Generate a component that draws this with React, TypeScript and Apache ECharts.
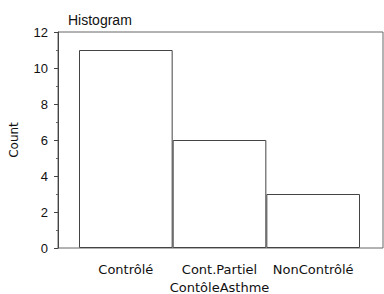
import React, { useEffect, useRef } from "react";
import * as echarts from "echarts";

const categories = ["Contrôlé", "Cont.Partiel", "NonContrôlé"];
const counts = [11, 6, 3];
const yTicks = { min: 0, max: 12, interval: 2 };
const titleText = "Histogram";
const yName = "Count";
const xName = "ContôleAsthme";

export default function App() {
  const ref = useRef<HTMLDivElement>(null);
  useEffect(() => {
    const chart = echarts.init(ref.current!, null, { renderer: "svg" });
    const font = "'Liberation Sans', Arial, sans-serif";
    const font2 = "'DejaVu Sans', sans-serif";
    chart.setOption({
      animation: false,
      textStyle: { fontFamily: font },
      title: {
        text: titleText,
        left: 63,
        top: 8,
        textStyle: { fontSize: 14, fontWeight: "normal", color: "#111", fontFamily: font },
      },
      grid: [
        { left: 58, right: 1, top: 32, bottom: 46, show: true, borderColor: "#666", borderWidth: 1, backgroundColor: "transparent", outerBoundsMode: "none", containLabel: false },
        { left: 79, right: 24, top: 32, bottom: 46, outerBoundsMode: "none", containLabel: false },
      ],
      xAxis: [
        { gridIndex: 0, type: "value", min: 0, max: 1, show: false },
        {
          gridIndex: 1,
          type: "category",
          data: categories,
          boundaryGap: true,
          axisLine: { show: false },
          axisTick: { show: false },
          axisLabel: { color: "#111", fontSize: 13, margin: 15, interval: 0, hideOverlap: false, fontFamily: font2 },
          name: xName,
          nameLocation: "middle",
          nameGap: 32,
          nameTextStyle: { color: "#111", fontSize: 13, fontFamily: font2 },
        },
      ],
      yAxis: [
        {
          gridIndex: 0,
          type: "value",
          min: yTicks.min,
          max: yTicks.max,
          interval: yTicks.interval,
          axisLine: { show: true, lineStyle: { color: "#444" } },
          axisTick: { show: true, length: 4, lineStyle: { color: "#444" } },
          minorTick: { show: true, splitNumber: 2, length: 2, lineStyle: { color: "#666" } },
          splitLine: { show: false },
          axisLabel: { color: "#111", fontSize: 13, margin: 10, fontFamily: font },
          name: yName,
          nameLocation: "middle",
          nameGap: 38,
          nameTextStyle: { color: "#111", fontSize: 12, fontFamily: font2 },
        },
        {
          gridIndex: 1,
          type: "value",
          min: yTicks.min,
          max: yTicks.max,
          interval: yTicks.interval,
          show: false,
        },
      ],
      series: [
        {
          type: "bar",
          xAxisIndex: 1,
          yAxisIndex: 1,
          data: counts,
          barCategoryGap: "0%",
          itemStyle: { color: "#ffffff", borderColor: "#444", borderWidth: 1 },
        },
      ],
    });
    return () => chart.dispose();
  }, []);
  return (
    <div
      ref={ref}
      style={{ position: "fixed", left: 0, top: 0, width: 384, height: 294, background: "#fff" }}
    />
  );
}
